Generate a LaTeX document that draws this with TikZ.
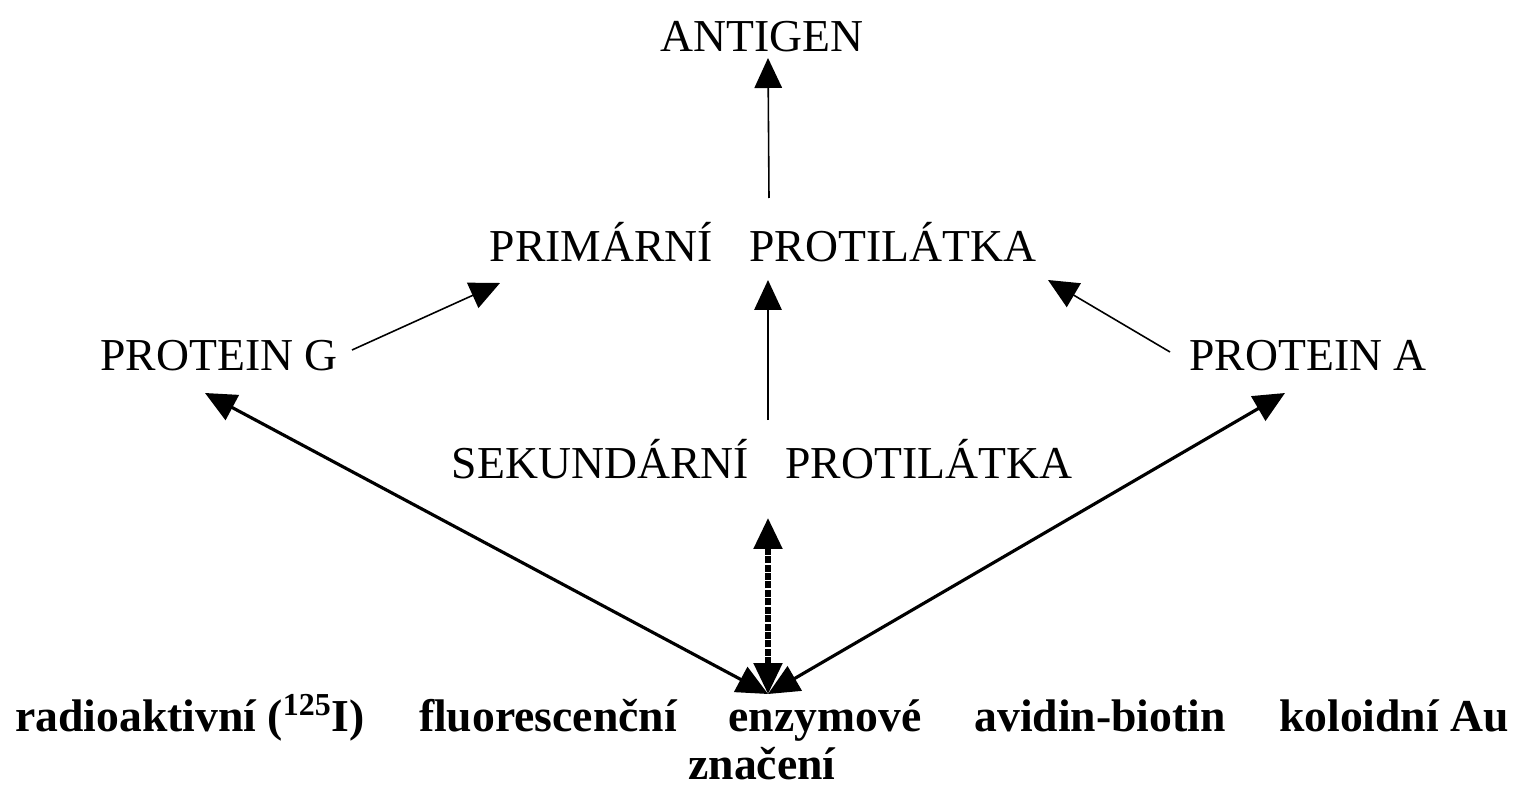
\documentclass[tikz,border=0pt]{standalone}
\usepackage{fontspec}
\setmainfont{Liberation Serif}
\usetikzlibrary{arrows.meta}

\begin{document}
\begin{tikzpicture}[x=0.02cm, y=-0.02cm,
                lbl/.style={anchor=base, inner sep=0pt, font=\fontsize{26}{30}\selectfont},
                blbl/.style={anchor=base, inner sep=0pt, font=\fontsize{26}{30}\selectfont\bfseries},
                arrthin/.style={-{Triangle[length=0.6cm, width=0.55cm]}, line width=0.9pt},
                arrbold/.style={{Triangle[length=0.62cm, width=0.56cm]}-{Triangle[length=0.62cm, width=0.56cm]}, line width=1.8pt},
                arrdots/.style={arrbold, line width=3pt, dash pattern=on 4pt off 0.8pt}]
                \useasboundingbox (0,0) rectangle (1518,787);
                \node[lbl] (antigen) at (762,52) {ANTIGEN};
                \node[lbl] (prim) at (763,262) {PRIMÁRNÍ\hspace{0.8em}PROTILÁTKA};
                \node[lbl] (protg) at (219,370) {PROTEIN G};
                \node[lbl] (prota) at (1308,370) {PROTEIN A};
                \node[lbl] (sek) at (762,478) {SEKUNDÁRNÍ\hspace{0.8em}PROTILÁTKA};
                \node[blbl] (radio) at (190,731) {radioaktivní (\textsuperscript{125}I)};
                \node[blbl] (fluor) at (548,731) {fluorescenční};
                \node[blbl] (enzym) at (825,731) {enzymové};
                \node[blbl] (avidin) at (1100,731) {avidin-biotin};
                \node[blbl] (zlato) at (1394,731) {koloidní Au};
                \node[blbl] (znac) at (762,779) {značení};
                \coordinate (hub) at (768,694);
                \draw[arrthin] ([shift={(6,-64)}]prim.base) -- ([shift={(6,6)}]antigen.base);
                \draw[arrthin] ([shift={(6,-58)}]sek.base) -- ([shift={(5,18)}]prim.base);
                \draw[arrthin] ([shift={(133,-20)}]protg.base) -- ([shift={(-263,21)}]prim.base);
                \draw[arrthin] ([shift={(-138,-18)}]prota.base) -- ([shift={(285,18)}]prim.base);
                \draw[arrbold] (hub) -- ([shift={(-14,23)}]protg.base);
                \draw[arrbold] (hub) -- ([shift={(-23,23)}]prota.base);
                \draw[arrdots] (hub) -- ([shift={(6,40)}]sek.base);
            \end{tikzpicture}
\end{document}
